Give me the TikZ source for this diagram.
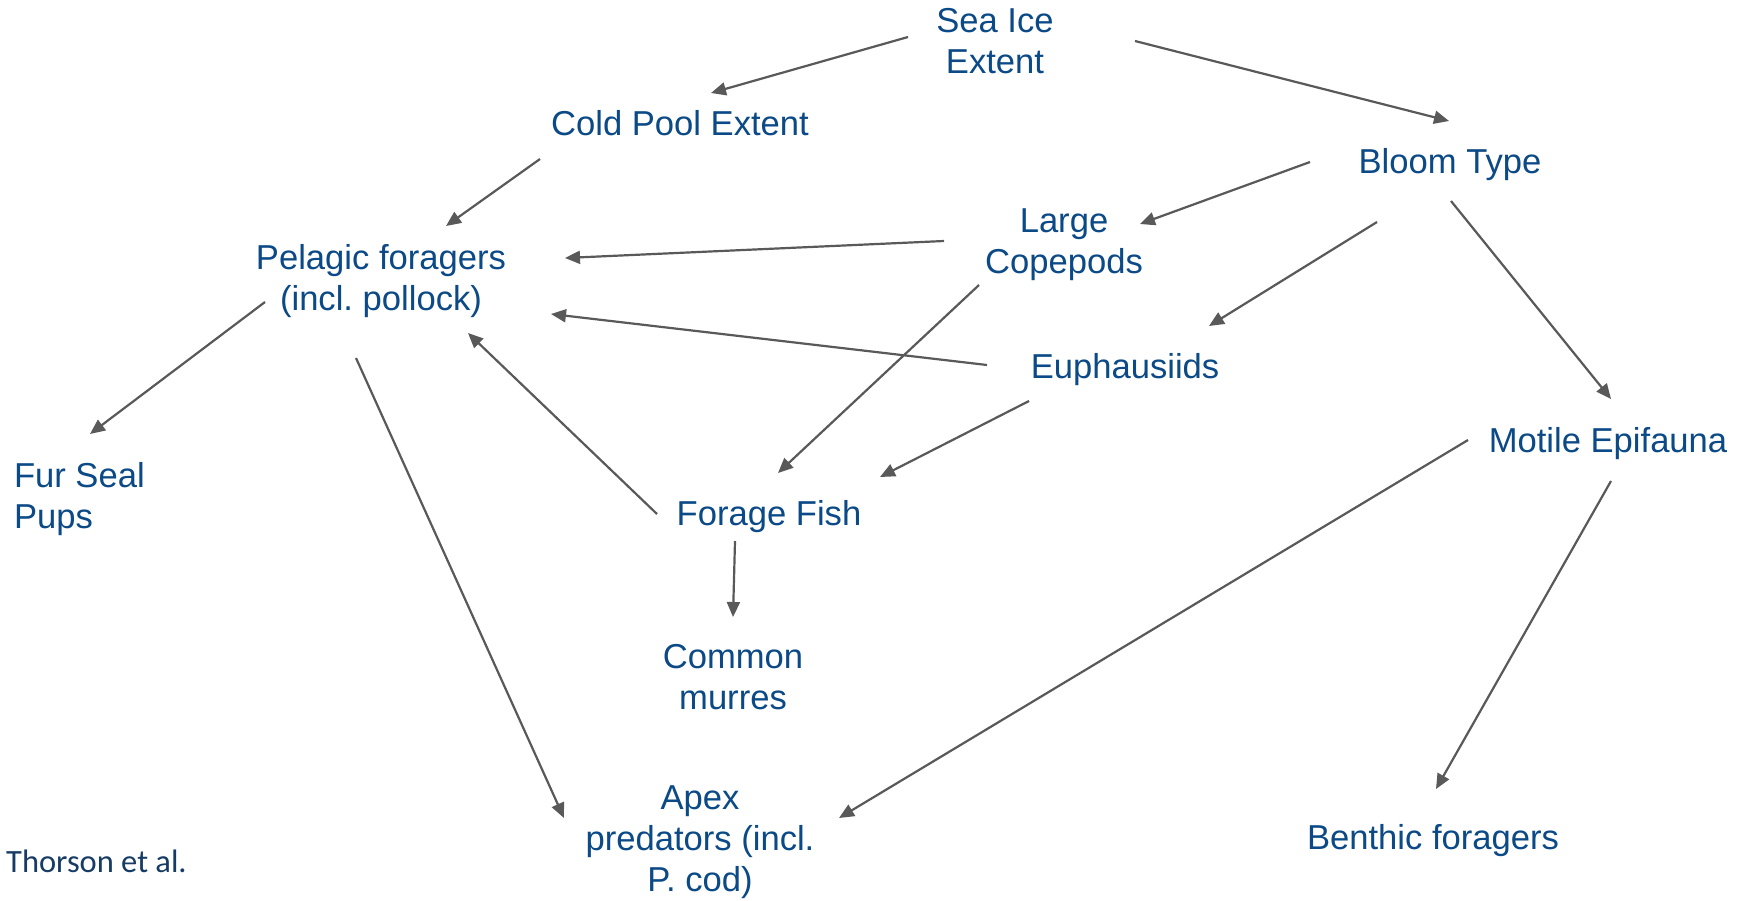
\documentclass[tikz,border=0pt]{standalone}
\usepackage{fontspec}
\setmainfont{Liberation Sans}
\newfontfamily\thorsonfont{Carlito}
\usetikzlibrary{arrows.meta}
\definecolor{labelblue}{HTML}{0B4A86}
\definecolor{creditblue}{HTML}{163B64}
\definecolor{arrowgray}{HTML}{595959}
\tikzset{
  lbl/.style={inner sep=0pt, outer sep=0pt, text=labelblue, align=center, font=\fontsize{34.6}{41}\selectfont},
  arr/.style={draw=arrowgray, line width=2.2pt, -{Triangle[length=15pt,width=13pt]}}
}
\begin{document}
\begin{tikzpicture}[x=1pt,y=-1pt]
\useasboundingbox (0,0) rectangle (1747,900);
\fill[white] (0,0) rectangle (1747,900);
\node[lbl] (seaice) at (995,44.3) {Sea Ice\strut\\Extent\strut};
\node[lbl] (coldpool) at (680,126.8) {Cold Pool Extent\strut};
\node[lbl] (bloom) at (1450,164.8) {Bloom Type\strut};
\node[lbl] (copepods) at (1064,244.3) {Large\strut\\Copepods\strut};
\node[lbl] (pelagic) at (381,281.3) {Pelagic foragers\strut\\(incl.\ pollock)\strut};
\node[lbl] (euph) at (1125,369.8) {Euphausiids\strut};
\node[lbl] (motile) at (1608,443.8) {Motile Epifauna\strut};
\node[lbl, align=left, anchor=west] (furseal) at (14,499.3) {Fur Seal\strut\\Pups\strut};
\node[lbl] (forage) at (769,516.8) {Forage Fish\strut};
\node[lbl] (murres) at (733,680.3) {Common\strut\\murres\strut};
\node[lbl] (apex) at (700,841.8) {Apex\strut\\predators (incl.\strut\\P. cod)\strut};
\node[lbl] (benthic) at (1433,840.8) {Benthic foragers\strut};
\node[inner sep=0pt, anchor=base west, text=creditblue, font=\thorsonfont\fontsize{32.5}{39}\selectfont] (credit) at (6,872) {Thorson et al.};

\draw[arr] ([shift={(-87,-7.3)}]seaice.center) -- ([shift={(31,-33.8)}]coldpool.center);
\draw[arr] ([shift={(140,-3.3)}]seaice.center) -- ([shift={(-1,-43.8)}]bloom.center);
\draw[arr] ([shift={(-140,32.2)}]coldpool.center) -- ([shift={(65,-55.3)}]pelagic.center);
\draw[arr] ([shift={(-140,-2.8)}]bloom.center) -- ([shift={(76,-20.3)}]copepods.center);
\draw[arr] ([shift={(-73,57.2)}]bloom.center) -- ([shift={(84,-43.8)}]euph.center);
\draw[arr] ([shift={(1,36.2)}]bloom.center) -- ([shift={(3,-44.8)}]motile.center);
\draw[arr] ([shift={(-120,-3.3)}]copepods.center) -- ([shift={(184,-23.3)}]pelagic.center);
\draw[arr] ([shift={(-138,-4.8)}]euph.center) -- ([shift={(170,32.7)}]pelagic.center);
\draw[arr] ([shift={(-85,40.7)}]copepods.center) -- ([shift={(9,-43.8)}]forage.center);
\draw[arr] ([shift={(-96,31.2)}]euph.center) -- ([shift={(111,-39.8)}]forage.center);
\draw[arr] ([shift={(-112,-2.8)}]forage.center) -- ([shift={(87,51.7)}]pelagic.center);
\draw[arr] ([shift={(-116,20.7)}]pelagic.center) -- ([shift={(76,-65.3)}]furseal.west);
\draw[arr] ([shift={(-25,76.7)}]pelagic.center) -- ([shift={(-136,-23.8)}]apex.center);
\draw[arr] ([shift={(-34,24.2)}]forage.center) -- ([shift={(0,-63.3)}]murres.center);
\draw[arr] ([shift={(-140,-3.8)}]motile.center) -- ([shift={(139,-23.8)}]apex.center);
\draw[arr] ([shift={(3,37.2)}]motile.center) -- ([shift={(3,-51.8)}]benthic.center);
\end{tikzpicture}
\end{document}
